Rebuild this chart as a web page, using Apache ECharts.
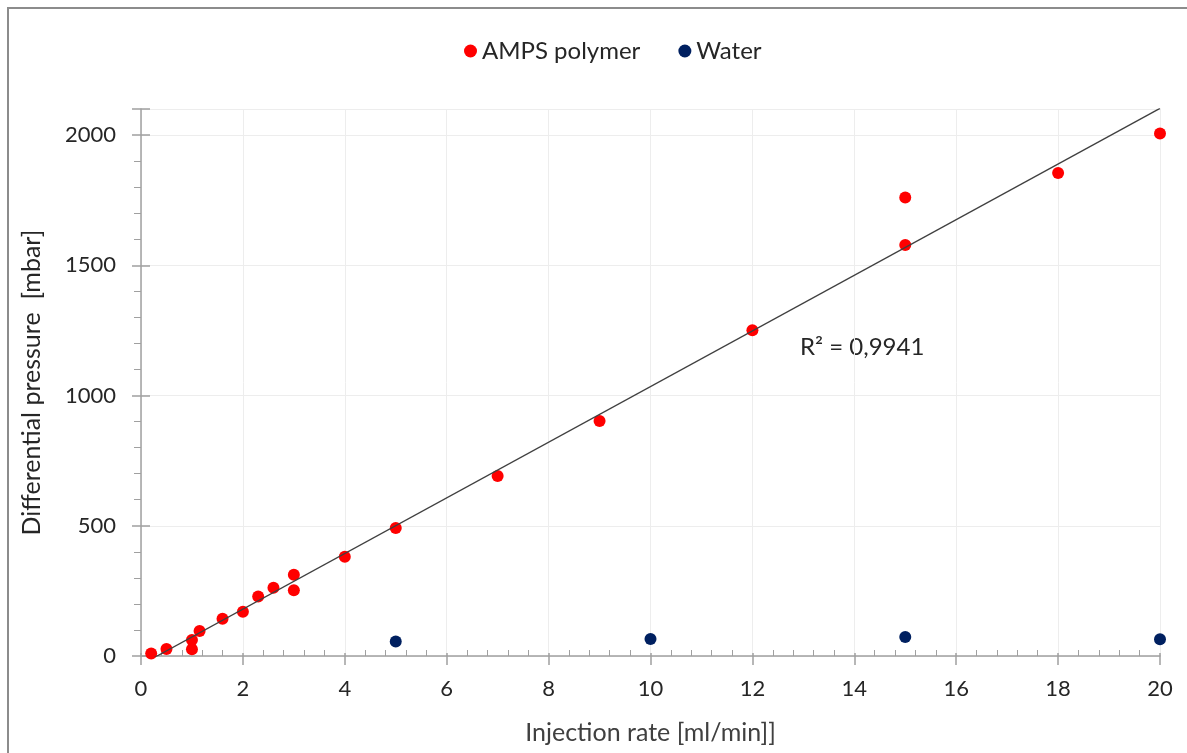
<!DOCTYPE html>
<html>
<head>
<meta charset="utf-8">
<script src="https://cdn.jsdelivr.net/npm/echarts@6/dist/echarts.min.js"></script>
<style>
  html, body { margin: 0; padding: 0; background: #fff; }
  #chart { width: 1187px; height: 753px; }
</style>
</head>
<body>
<div id="chart"></div>
<script>
// Injection rate [ml/min] vs differential pressure [mbar]
const ampsRate     = [0.2, 0.5, 1.0, 1.0, 1.15, 1.6, 2.0, 2.3, 2.6, 3.0, 3.0, 4.0, 5.0, 7.0, 9.0, 12.0, 15.0, 15.0, 18.0, 20.0];
const ampsPressure = [10, 27, 61, 26, 96, 143, 170, 228, 262, 312, 252, 381, 491, 691, 902, 1251, 1578, 1760, 1854, 2006];
const waterRate     = [5, 10, 15, 20];
const waterPressure = [56, 65, 73, 64];
const seriesNames = ['AMPS polymer', 'Water'];
const r2Text = 'R² = 0,9941';

// Least-squares linear trendline through the AMPS points
function linearFit(xs, ys) {
  const n = xs.length;
  let sx = 0, sy = 0, sxx = 0, sxy = 0;
  for (let i = 0; i < n; i++) { sx += xs[i]; sy += ys[i]; sxx += xs[i] * xs[i]; sxy += xs[i] * ys[i]; }
  const slope = (n * sxy - sx * sy) / (n * sxx - sx * sx);
  const intercept = (sy - slope * sx) / n;
  return { slope, intercept };
}
const fit = linearFit(ampsRate, ampsPressure);
const xMin = Math.min(...ampsRate), xMax = Math.max(...ampsRate);
const trend = [[xMin, fit.slope * xMin + fit.intercept], [xMax, fit.slope * xMax + fit.intercept]];

const pair = (xs, ys) => xs.map((x, i) => [x, ys[i]]);
const FONT = 'Lato';
const axisGray = '#a0a0a0';
const textDark = '#262626';

// Shared scale settings; the second axis of each pair only adds the inner tick marks
const xScale = { type: 'value', min: 0, max: 20, interval: 2 };
const yScale = { type: 'value', min: 0, max: 2100, interval: 500 };
const hiddenParts = {
  axisLine: { show: false }, axisLabel: { show: false }, splitLine: { show: false }
};

const chart = echarts.init(document.getElementById('chart'));
chart.setOption({
  animation: false,
  textStyle: { fontFamily: FONT },
  graphic: [
    { type: 'rect', shape: { x: 8, y: 8, width: 1200, height: 800 },
      style: { fill: 'none', stroke: '#8c8c8c', lineWidth: 2 }, silent: true, z: -1 },
    { type: 'text', left: 800, top: 335,
      style: { text: r2Text, font: '24px ' + FONT, fill: textDark } }
  ],
  legend: {
    top: 34, left: 459, itemGap: 38, itemWidth: 13, itemHeight: 13,
    data: seriesNames.map(n => ({ name: n, icon: 'circle' })),
    textStyle: { fontSize: 24, color: textDark, fontFamily: FONT }
  },
  grid: { left: 141, right: 27, top: 109, bottom: 97, containLabel: false },
  xAxis: [
    Object.assign({}, xScale, {
      name: 'Injection rate [ml/min]]', nameLocation: 'middle', nameGap: 64,
      nameTextStyle: { fontSize: 25, color: '#404040', fontFamily: FONT },
      axisLine: { show: true, onZero: false, lineStyle: { color: axisGray, width: 1.5 } },
      axisTick: { show: true, inside: false, length: 9, lineStyle: { color: axisGray, width: 1.5 } },
      axisLabel: { fontSize: 22, color: textDark, margin: 22, fontFamily: FONT },
      splitLine: { show: true, lineStyle: { color: '#ededed', width: 1 } }
    }),
    Object.assign({}, xScale, hiddenParts, {
      position: 'bottom',
      axisTick: { show: true, inside: true, length: 3, lineStyle: { color: axisGray, width: 1.5 } },
      minorTick: { show: true, splitNumber: 5, length: 6, lineStyle: { color: axisGray, width: 1 } }
    })
  ],
  yAxis: [
    Object.assign({}, yScale, {
      name: 'Differential pressure  [mbar]', nameLocation: 'middle', nameGap: 97,
      nameTextStyle: { fontSize: 25, color: textDark, fontFamily: FONT },
      axisLine: { show: true, lineStyle: { color: axisGray, width: 1.5 } },
      axisTick: { show: true, length: 9, lineStyle: { color: axisGray, width: 1.5 } },
      minorTick: { show: true, splitNumber: 5, length: 7, lineStyle: { color: axisGray, width: 1 } },
      axisLabel: { fontSize: 22, color: textDark, margin: 25, fontFamily: FONT,
        formatter: v => (v % 500 === 0 ? String(v) : '') },
      splitLine: { show: true, lineStyle: { color: '#ededed', width: 1 } }
    }),
    Object.assign({}, yScale, hiddenParts, {
      position: 'left',
      axisTick: { show: true, inside: true, length: 9, lineStyle: { color: axisGray, width: 1.5 } }
    })
  ],
  series: [
    {
      name: 'trend', type: 'line', data: trend, symbol: 'none', clip: true,
      xAxisIndex: 0, yAxisIndex: 0,
      lineStyle: { color: '#404040', width: 1.3 }, z: 3, silent: true
    },
    {
      name: seriesNames[0], type: 'scatter', data: pair(ampsRate, ampsPressure),
      xAxisIndex: 0, yAxisIndex: 0,
      symbol: 'circle', symbolSize: 12, itemStyle: { color: '#ff0000', opacity: 1 }, z: 2
    },
    {
      name: seriesNames[1], type: 'scatter', data: pair(waterRate, waterPressure),
      xAxisIndex: 0, yAxisIndex: 0,
      symbol: 'circle', symbolSize: 12, itemStyle: { color: '#002060', opacity: 1 }, z: 2
    }
  ]
});
</script>
</body>
</html>
